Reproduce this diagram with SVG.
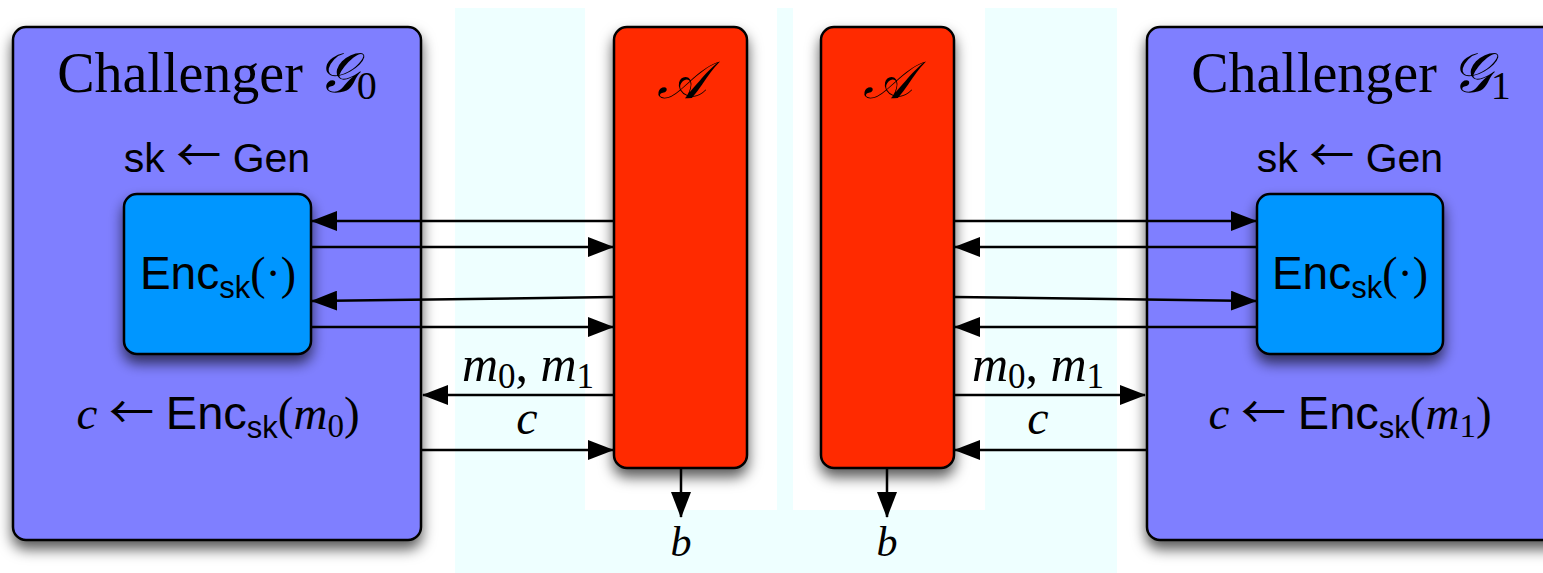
<svg xmlns="http://www.w3.org/2000/svg" width="1543" height="573" viewBox="0 0 1543 573">
<style>
.box{stroke:#000;stroke-width:2.5;filter:url(#shadow)}
.chal{fill:#7F7FFF}
.enc{fill:#0096FF}
.adv{fill:#FF2A00}
.serif{font-family:"Liberation Serif","DejaVu Serif",serif;fill:#000}
.sans{font-family:"Liberation Sans","DejaVu Sans",sans-serif;fill:#000}
.it{font-style:italic}
.arrowch{font-family:"Noto Sans CJK JP","DejaVu Sans",sans-serif;font-weight:normal}
.conn path{stroke:#000;stroke-width:2.5;fill:none;marker-end:url(#arr)}
</style>
<defs>
<filter id="shadow" x="-20%" y="-20%" width="140%" height="150%">
<feDropShadow dx="0" dy="8" stdDeviation="7" flood-color="#000" flood-opacity="0.65"/>
</filter>
<marker id="arr" markerUnits="userSpaceOnUse" markerWidth="26" markerHeight="20" refX="25" refY="10" orient="auto">
<path d="M0,0 L26,10 L0,20 z" fill="#000"/>
</marker>
</defs>
<rect width="1543" height="573" fill="#fff"/>
<rect x="455" y="8" width="662" height="565" fill="#EEFFFF"/>
<rect x="585" y="8" width="192" height="502" fill="#fff"/>
<rect x="793" y="8" width="192" height="502" fill="#fff"/>

<g id="challenger0">
<rect class="box chal" x="13" y="27" width="408" height="513" rx="13"/>
<text class="serif" x="217" y="92" font-size="56" text-anchor="middle">Challenger <tspan class="it">𝒢</tspan><tspan font-size="40" dy="7">0</tspan></text>
<text class="sans" x="217" y="172" font-size="41" text-anchor="middle">sk <tspan class="arrowch" font-size="45">←</tspan> Gen</text>
<text x="218" y="429" font-size="47" text-anchor="middle"><tspan class="serif it">c</tspan><tspan class="serif"> </tspan><tspan class="arrowch" font-size="45">←</tspan><tspan class="serif"> </tspan><tspan class="sans">Enc</tspan><tspan class="sans" font-size="31" dy="9">sk</tspan><tspan class="serif" dy="-9">(</tspan><tspan class="serif it">m</tspan><tspan class="serif" font-size="33" dy="8">0</tspan><tspan class="serif" dy="-8">)</tspan></text>
</g>

<g id="enc0">
<rect class="box enc" x="124" y="194" width="187" height="160" rx="13"/>
<text x="218" y="289" font-size="46" text-anchor="middle"><tspan class="sans">Enc</tspan><tspan class="sans" font-size="31" dy="9">sk</tspan><tspan class="serif" dy="-9">(·)</tspan></text>
</g>

<g id="adversary0">
<rect class="box adv" x="614" y="27" width="133" height="441" rx="13"/>
<text class="serif it" x="681" y="98" font-size="52" text-anchor="middle">𝒜</text>
</g>

<g id="adversary1">
<rect class="box adv" x="821" y="27" width="133" height="441" rx="13"/>
<text class="serif it" x="887" y="98" font-size="52" text-anchor="middle">𝒜</text>
</g>

<g id="challenger1">
<rect class="box chal" x="1147" y="27" width="420" height="513" rx="13"/>
<text class="serif" x="1351" y="92" font-size="56" text-anchor="middle">Challenger <tspan class="it">𝒢</tspan><tspan font-size="40" dy="7">1</tspan></text>
<text class="sans" x="1350" y="172" font-size="41" text-anchor="middle">sk <tspan class="arrowch" font-size="45">←</tspan> Gen</text>
<text x="1350" y="429" font-size="47" text-anchor="middle"><tspan class="serif it">c</tspan><tspan class="serif"> </tspan><tspan class="arrowch" font-size="45">←</tspan><tspan class="serif"> </tspan><tspan class="sans">Enc</tspan><tspan class="sans" font-size="31" dy="9">sk</tspan><tspan class="serif" dy="-9">(</tspan><tspan class="serif it">m</tspan><tspan class="serif" font-size="33" dy="8">1</tspan><tspan class="serif" dy="-8">)</tspan></text>
</g>

<g id="enc1">
<rect class="box enc" x="1257" y="194" width="186" height="160" rx="13"/>
<text x="1350" y="289" font-size="46" text-anchor="middle"><tspan class="sans">Enc</tspan><tspan class="sans" font-size="31" dy="9">sk</tspan><tspan class="serif" dy="-9">(·)</tspan></text>
</g>

<g id="connectors" class="conn">
<path d="M614,221 L312,221"/>
<path d="M311,247 L613,247"/>
<path d="M614,297 L312,301"/>
<path d="M311,327 L613,327"/>
<path d="M614,395 L423,395"/>
<path d="M421,450 L613,450"/>
<path d="M681,469 L681,517"/>
<path d="M954,221 L1256,221"/>
<path d="M1257,247 L955,247"/>
<path d="M954,297 L1256,301"/>
<path d="M1257,327 L955,327"/>
<path d="M954,395 L1145,395"/>
<path d="M1147,450 L955,450"/>
<path d="M887,469 L887,517"/>
</g>

<g id="labels">
<text class="serif" x="528" y="381" font-size="50" text-anchor="middle"><tspan class="it">m</tspan><tspan font-size="35" dy="7">0</tspan><tspan dy="-7">, </tspan><tspan class="it">m</tspan><tspan font-size="35" dy="7">1</tspan></text>
<text class="serif it" x="527" y="434" font-size="48" text-anchor="middle">c</text>
<text class="serif" x="1038" y="381" font-size="50" text-anchor="middle"><tspan class="it">m</tspan><tspan font-size="35" dy="7">0</tspan><tspan dy="-7">, </tspan><tspan class="it">m</tspan><tspan font-size="35" dy="7">1</tspan></text>
<text class="serif it" x="1038" y="434" font-size="48" text-anchor="middle">c</text>
<text class="serif it" x="681" y="556" font-size="42" text-anchor="middle">b</text>
<text class="serif it" x="887" y="556" font-size="42" text-anchor="middle">b</text>
</g>
</svg>
